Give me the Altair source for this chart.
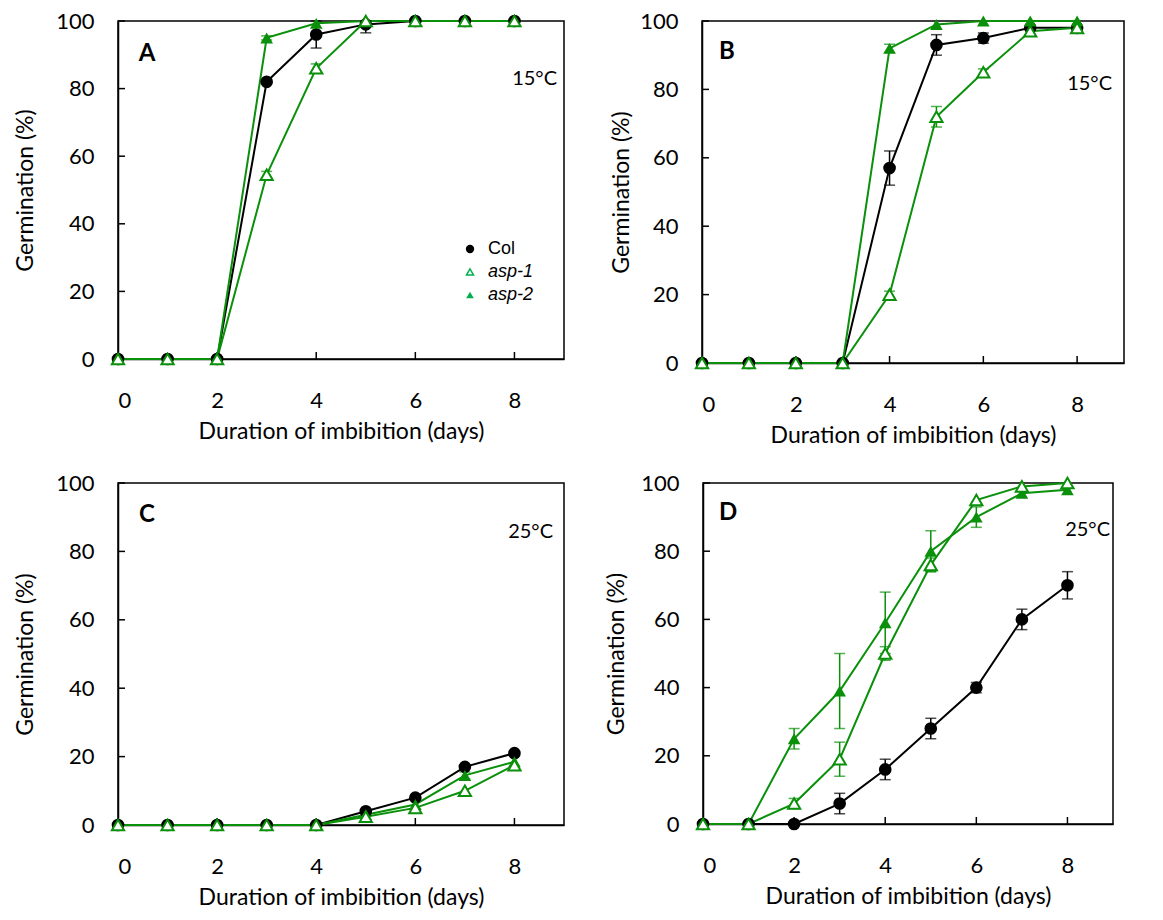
import altair as alt
import pandas as pd

days = [0, 1, 2, 3, 4, 5, 6, 7, 8]
series_names = ["Col", "asp-1", "asp-2"]

# Panel A (15°C)
A_col = [0, 0, 0, 82, 96, 99, 100, 100, 100]
A_col_err = [0, 0, 0, 0.5, 4, 2.5, 0, 0, 0]
A_asp1 = [0, 0, 0, 54.5, 86, 100, 100, 100, 100]
A_asp1_err = [0, 0, 0, 1, 1.3, 0, 0, 0, 0]
A_asp2 = [0, 0, 0, 95, 99.3, 100, 100, 100, 100]
A_asp2_err = [0, 0, 0, 0.6, 0, 0, 0, 0, 0]

# Panel B (15°C)
B_col = [0, 0, 0, 0, 57, 93, 95, 98, 98]
B_col_err = [0, 0, 0, 0, 5, 3, 1.5, 0, 0]
B_asp1 = [0, 0, 0, 0, 20, 72, 85, 97, 98]
B_asp1_err = [0, 0, 0, 0, 1, 3, 1, 0, 0]
B_asp2 = [0, 0, 0, 0, 92, 99, 100, 100, 100]
B_asp2_err = [0, 0, 0, 0, 1.2, 0, 0, 0, 0]

# Panel C (25°C)
C_col = [0, 0, 0, 0, 0, 4, 8, 17, 21]
C_col_err = [0, 0, 0, 0, 0, 0, 0, 0, 0]
C_asp1 = [0, 0, 0, 0, 0, 2.4, 5, 10, 17.5]
C_asp1_err = [0, 0, 0, 0, 0, 0, 0, 0, 0]
C_asp2 = [0, 0, 0, 0, 0, 3, 6, 14.5, 18.5]
C_asp2_err = [0, 0, 0, 0, 0, 0, 0, 1, 0]

# Panel D (25°C)
D_col = [0, 0, 0, 6, 16, 28, 40, 60, 70]
D_col_err = [0, 0, 0, 3, 3, 3, 1.5, 3, 4]
D_asp1 = [0, 0, 6, 19, 50, 76, 95, 99, 100]
D_asp1_err = [0, 0, 1.5, 5, 2, 2, 0, 0, 0]
D_asp2 = [0, 0, 25, 39, 59, 80, 90, 97, 98]
D_asp2_err = [0, 0, 3, 11, 9, 6, 3, 0, 0]

x_ticks = [0, 2, 4, 6, 8]
y_ticks = [0, 20, 40, 60, 80, 100]

BLACK = "#000000"
GREEN = "#0a900a"
LEGEND_GREEN = "#00b050"
FONT = "Lato"


def make_df(col, col_err, a1, a1_err, a2, a2_err):
    rows = []
    for name, vals, errs in [("Col", col, col_err), ("asp-1", a1, a1_err), ("asp-2", a2, a2_err)]:
        for d, v, e in zip(days, vals, errs):
            rows.append({"day": d, "germ": v, "err": e, "series": name,
                         "lo": max(v - e, 0), "hi": min(v + e, 100)})
    return pd.DataFrame(rows)


def panel(df, letter, temp, w, h, letter_pos, temp_pos, ytp, legend=False):
    xs = alt.Scale(domain=[0, 9], nice=False, zero=False)
    ys = alt.Scale(domain=[0, 100], nice=False)
    xax = alt.Axis(values=x_ticks, ticks=False, grid=False, labelPadding=31,
                   title="Duration of imbibition (days)", titlePadding=9)
    yax = alt.Axis(values=y_ticks, ticks=False, grid=False, labelPadding=24,
                   title="Germination (%)", titlePadding=ytp)

    base = alt.Chart(df)
    layers = []
    # inward ticks
    layers.append(alt.Chart(pd.DataFrame({"t": x_ticks})).mark_rule(color=BLACK, strokeWidth=1.5).encode(
        x=alt.X("t:Q", scale=xs, axis=xax), y=alt.value(h), y2=alt.value(h - 7)))
    layers.append(alt.Chart(pd.DataFrame({"t": y_ticks})).mark_rule(color=BLACK, strokeWidth=1.5).encode(
        y=alt.Y("t:Q", scale=ys, axis=yax), x=alt.value(0), x2=alt.value(7)))

    order = [("Col", BLACK), ("asp-2", GREEN), ("asp-1", GREEN)]
    for name, color in order:
        sub = base.transform_filter(alt.datum.series == name)
        layers.append(sub.mark_line(color=color, strokeWidth=2).encode(
            x=alt.X("day:Q", scale=xs), y=alt.Y("germ:Q", scale=ys)))
    for name, color in order:
        sub = base.transform_filter((alt.datum.series == name) & (alt.datum.err > 0))
        layers.append(sub.mark_rule(color=color, strokeWidth=1.5).encode(
            x=alt.X("day:Q", scale=xs), y=alt.Y("lo:Q", scale=ys), y2="hi:Q"))
        layers.append(sub.mark_tick(color=color, orient="horizontal", size=11, thickness=1.5).encode(
            x=alt.X("day:Q", scale=xs), y=alt.Y("lo:Q", scale=ys)))
        layers.append(sub.mark_tick(color=color, orient="horizontal", size=11, thickness=1.5).encode(
            x=alt.X("day:Q", scale=xs), y=alt.Y("hi:Q", scale=ys)))
    for name, color in order:
        sub = base.transform_filter(alt.datum.series == name)
        if name == "Col":
            m = sub.mark_point(shape="circle", filled=True, color=BLACK, size=160, opacity=1)
        elif name == "asp-2":
            m = sub.mark_point(shape="triangle-up", filled=True, color=GREEN, size=160, opacity=1)
        else:
            m = sub.mark_point(shape="triangle-up", filled=True, fill="white", stroke=GREEN,
                               strokeWidth=2, size=150, opacity=1)
        layers.append(m.encode(x=alt.X("day:Q", scale=xs), y=alt.Y("germ:Q", scale=ys)))

    one = pd.DataFrame({"a": [0]})
    layers.append(alt.Chart(one).mark_text(text=letter, font=FONT, fontSize=24, fontWeight="bold",
                                           color=BLACK, align="center", baseline="middle").encode(
        x=alt.value(letter_pos[0]), y=alt.value(letter_pos[1])))
    layers.append(alt.Chart(one).mark_text(text=temp, font=FONT, fontSize=20,
                                           color=BLACK, align="right", baseline="middle").encode(
        x=alt.value(w + temp_pos[0]), y=alt.value(temp_pos[1])))

    if legend:
        lx, ly, dy = 352, 228, 23
        layers.append(alt.Chart(one).mark_point(shape="circle", filled=True, color=BLACK, size=70, opacity=1).encode(
            x=alt.value(lx), y=alt.value(ly)))
        layers.append(alt.Chart(one).mark_point(shape="triangle-up", filled=True, fill="white",
                                                stroke=LEGEND_GREEN, strokeWidth=1.5, size=50, opacity=1).encode(
            x=alt.value(lx), y=alt.value(ly + dy)))
        layers.append(alt.Chart(one).mark_point(shape="triangle-up", filled=True, color=LEGEND_GREEN,
                                                size=60, opacity=1).encode(
            x=alt.value(lx), y=alt.value(ly + 2 * dy)))
        for i, (lab, style) in enumerate([("Col", "normal"), ("asp-1", "italic"), ("asp-2", "italic")]):
            layers.append(alt.Chart(one).mark_text(text=lab, font="Liberation Sans", fontSize=18,
                                                   fontStyle=style, color=BLACK, align="left",
                                                   baseline="middle").encode(
                x=alt.value(lx + 18), y=alt.value(ly + i * dy)))

    return alt.layer(*layers).properties(width=w, height=h)


pA = panel(make_df(A_col, A_col_err, A_asp1, A_asp1_err, A_asp2, A_asp2_err),
           "A", "15°C", 446, 338, (29, 33), (-7, 58), 18, legend=True)
pB = panel(make_df(B_col, B_col_err, B_asp1, B_asp1_err, B_asp2, B_asp2_err),
           "B", "15°C", 422, 342, (25, 31), (-12, 63), 6)
pC = panel(make_df(C_col, C_col_err, C_asp1, C_asp1_err, C_asp2, C_asp2_err),
           "C", "25°C", 446, 342, (29, 32), (-11, 49), 18)
pD = panel(make_df(D_col, D_col_err, D_asp1, D_asp1_err, D_asp2, D_asp2_err),
           "D", "25°C", 410, 341, (25, 30), (-3, 47), 12)

row1 = alt.hconcat(pA, pB, spacing=44)
row2 = alt.hconcat(pC, pD, spacing=39)
chart = alt.vconcat(row1, row2, spacing=23).properties(
    padding={"left": 5, "top": 1, "right": 5, "bottom": 5}
).configure(
    background="white"
).configure_view(
    stroke=BLACK, strokeWidth=1.5
).configure_axis(
    labelFont=FONT, labelFontSize=22, labelColor=BLACK,
    titleFont=FONT, titleFontSize=23, titleFontWeight="normal", titleColor=BLACK,
    domainColor=BLACK, domainWidth=1.5
)

chart.save("out.html", embed_options={"renderer": "svg", "actions": False})
